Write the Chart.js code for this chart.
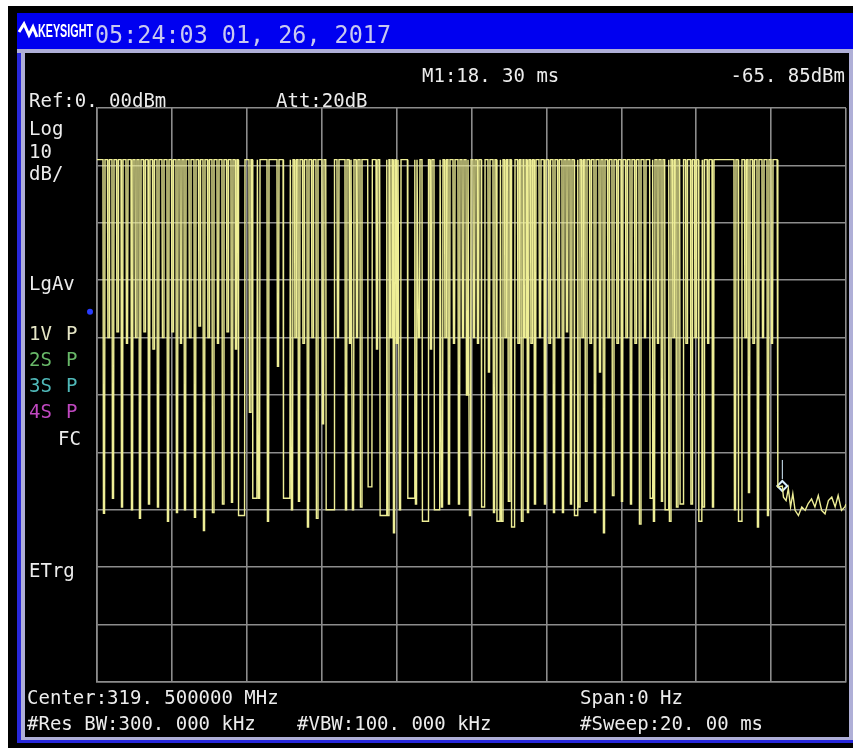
<!DOCTYPE html>
<html>
<head>
<meta charset="utf-8">
<script src="https://cdn.jsdelivr.net/npm/chart.js@4.4.1/dist/chart.umd.min.js"></script>
<style>
  html, body { margin: 0; padding: 0; background: #fff; }
  canvas { display: block; }
</style>
</head>
<body>
<canvas id="screen" width="853" height="748"></canvas>
<script>
// trace levels (dBm)
const topDb = -9;
const burstEndMs = 18.16;

// short dips of the OOK burst: centre time (ms) and bottom level (dBm)
const dipMs = [
  0.187, 0.307, 0.427, 0.547, 0.668, 0.801, 0.935, 1.041, 1.148, 1.268,
  1.389, 1.509, 1.629, 1.762, 1.896, 2.016, 2.136, 2.243, 2.350, 2.483,
  2.617, 2.737, 2.857, 2.977, 3.097, 3.231, 3.364, 3.485, 3.605, 3.712,
  4.085, 4.326, 4.566, 4.833, 5.207, 5.300, 5.394, 5.514, 5.634, 5.754,
  5.874, 6.035, 6.435, 6.649, 6.756, 6.836, 6.943, 7.049, 7.477, 7.770,
  7.850, 7.931, 8.011, 8.091, 8.518, 8.598, 8.919,
  9.212, 9.306, 9.399, 9.533, 9.666, 9.773, 9.880, 9.960, 10.067, 10.174,
  10.467, 10.601, 10.814, 10.908, 10.999, 11.255, 11.348, 11.428, 11.509, 11.602,
  11.696, 11.829, 11.963, 12.083, 12.203, 12.323, 12.443, 12.550, 12.657, 12.870,
  12.964, 13.057, 13.178, 13.298, 13.431, 13.538, 13.658, 13.778, 13.898, 14.019,
  14.139, 14.259, 14.379, 14.499, 14.633, 14.873, 14.980, 15.087, 15.300, 15.394,
  15.487, 15.741, 15.874, 15.981, 16.195, 16.320, 16.449, 17.036, 17.316, 17.410,
  17.530, 17.650, 17.784, 17.917, 18.024
];
const dipDb = [
  -70.6, -40, -68, -39, -69.5, -41, -70, -40, -71.5, -39,
  -69, -42, -69.5, -40, -72, -39, -70.5, -41, -70, -40,
  -71.3, -38, -73.6, -40, -70.5, -41, -69, -39, -68.7, -42,
  -53, -68, -72, -45, -70, -40, -68.5, -41, -73, -40,
  -71.5, -55, -40, -70, -41, -70, -40, -69.5, -42, -71,
  -40, -74, -41, -70, -69, -40, -42,
  -69.5, -40, -69, -41, -69, -40, -50, -71, -40, -41,
  -46, -70.5, -72, -40, -68.5, -41, -72, -40, -70.5, -41,
  -69, -40, -69, -41, -70.5, -40, -70.5, -39, -69, -69.5,
  -40, -68.5, -41, -70.5, -46, -74, -40, -67.5, -41, -68.5,
  -40, -69, -41, -72.5, -40, -72, -41, -68.5, -72, -40,
  -69.5, -41, -69, -40, -69.5, -41, -69.5, -70, -40, -67,
  -41, -73, -40, -71, -41
];

// longer stretches where the carrier is off (ms, ms, dBm)
const lowStartMs = [3.78, 4.16, 4.98, 6.12, 7.24, 7.56, 8.30, 8.69, 9.01, 10.27, 10.68, 11.07, 12.75, 14.77, 15.17, 15.57, 16.07, 17.13];
const lowEndMs   = [3.94, 4.27, 5.15, 6.33, 7.34, 7.72, 8.47, 8.84, 9.15, 10.35, 10.76, 11.15, 12.82, 14.82, 15.25, 15.65, 16.15, 17.21];
const lowDb      = [-71, -68, -68, -70, -66, -71, -68, -72, -70, -69.5, -72, -73, -71, -68, -70, -69, -72, -72];

// noise floor after the burst
const noiseMs = [18.18, 18.30, 18.33, 18.40, 18.46, 18.52, 18.58, 18.64, 18.73, 18.82, 18.91, 18.99,
  19.08, 19.17, 19.26, 19.35, 19.44, 19.53, 19.62, 19.71, 19.79, 19.88, 19.97, 20.0];
const noiseDb = [-66, -65.85, -67.8, -68.4, -66.3, -69.5, -67.2, -70.1, -71.0, -69.5, -70.1, -68.9,
  -68.1, -69.5, -67.5, -70.1, -70.7, -68.4, -67.8, -69.5, -67.5, -70.1, -69.5, -69];

// marker M1
const markerMs = 18.30;
const markerDb = -65.85;

// screen annotation texts
const headerText = '05:24:03 01, 26, 2017';
const refText = 'Ref:0. 00dBm';
const attText = 'Att:20dB';
const markerText = 'M1:18. 30 ms';
const markerValText = '-65. 85dBm';
const leftLabels = ['Log', '10', 'dB/', 'LgAv'];
const traceLabels = ['1V', '2S', '3S', '4S'];
const centerText = 'Center:319. 500000 MHz';
const spanText = 'Span:0 Hz';
const rbwText = '#Res BW:300. 000 kHz';
const vbwText = '#VBW:100. 000 kHz';
const sweepText = '#Sweep:20. 00 ms';

const DIP_HALF = 0.015;
const EDGE = 0.012;

const events = [];
dipMs.forEach((t, i) => events.push({ from: t - DIP_HALF, to: t + DIP_HALF, db: dipDb[i] }));
lowStartMs.forEach((t, i) => events.push({ from: t, to: lowEndMs[i], db: lowDb[i] }));
events.sort((a, b) => a.from - b.from);

const trace = [{ x: 0, y: topDb }];
events.forEach(e => {
    trace.push({ x: e.from - EDGE, y: topDb }, { x: e.from, y: e.db }, { x: e.to, y: e.db }, { x: e.to + EDGE, y: topDb });
});
trace.push({ x: burstEndMs, y: topDb });
noiseMs.forEach((t, i) => trace.push({ x: t, y: noiseDb[i] }));

const MONO = '"DejaVu Sans Mono", "Liberation Mono", monospace';

const screenPlugin = {
    id: 'screen',
    beforeDraw(chart) {
        const c = chart.ctx;
        c.save();
        c.fillStyle = '#fff';
        c.fillRect(0, 0, 853, 748);
        c.fillStyle = '#000';
        c.fillRect(8, 6, 845, 742);
        // header bar
        c.fillStyle = 'rgb(0,0,240)';
        c.fillRect(17, 13, 836, 37);
        // frame of the screen
        c.fillStyle = 'rgb(40,40,220)';
        c.fillRect(17, 50, 4, 693);
        c.fillRect(17, 740, 836, 3);
        c.fillStyle = 'rgb(175,175,215)';
        c.fillRect(17, 49, 836, 4);
        c.fillRect(21, 50, 4, 690);
        c.fillRect(21, 737, 832, 3);
        c.fillRect(849, 50, 4, 690);
        c.restore();
    },
    afterDatasetsDraw(chart) {
        const c = chart.ctx;
        const x = chart.scales.x, y = chart.scales.y;
        c.save();
        // marker stem above M1
        const mx = x.getPixelForValue(markerMs);
        const my = y.getPixelForValue(markerDb);
        c.strokeStyle = '#d8f0ff';
        c.lineWidth = 1;
        c.beginPath();
        c.moveTo(mx, my - 7);
        c.lineTo(mx, my - 26);
        c.stroke();
        // blue level mark at the left edge
        c.fillStyle = 'rgb(40,60,255)';
        c.beginPath();
        c.arc(x.left - 7, y.getPixelForValue(-35.5), 3, 0, Math.PI * 2);
        c.fill();
        c.restore();
    },
    afterDraw(chart) {
        const c = chart.ctx;
        c.save();
        c.textBaseline = 'alphabetic';

        // logo
        c.strokeStyle = '#fff';
        c.lineWidth = 3;
        c.lineJoin = 'miter';
        c.beginPath();
        c.moveTo(19, 32);
        c.lineTo(24, 24);
        c.lineTo(29, 35);
        c.lineTo(33, 27);
        c.lineTo(37, 37);
        c.stroke();
        c.fillStyle = '#fff';
        c.font = 'bold 19px "Liberation Sans", Arial, sans-serif';
        c.fillText('KEYSIGHT', 38, 37, 55);

        c.fillStyle = 'rgb(200,200,240)';
        c.font = '24px ' + MONO;
        c.fillText(headerText, 95, 43, 296);

        c.fillStyle = '#ececec';
        c.font = '19px ' + MONO;
        c.fillText(refText, 29, 107, 143);
        c.fillText(attText, 276, 107);
        c.fillText(markerText, 422, 82);
        c.textAlign = 'right';
        c.fillText(markerValText, 845, 82);
        c.textAlign = 'left';

        const leftY = [135, 158, 180, 290];
        leftLabels.forEach((t, i) => c.fillText(t, 29, leftY[i]));

        const traceColors = ['#e6e6c6', '#68b868', '#4fb8b8', '#c048c0'];
        const traceY = [340, 366, 392, 418];
        traceLabels.forEach((t, i) => {
            c.fillStyle = traceColors[i];
            c.fillText(t, 29, traceY[i]);
            c.fillText('P', 66, traceY[i]);
        });
        c.fillStyle = '#ececec';
        c.fillText('FC', 58, 445);
        c.fillText('ETrg', 29, 577);

        c.fillText(centerText, 27, 704, 252);
        c.fillText(rbwText, 27, 730, 230);
        c.fillText(vbwText, 297, 730);
        c.fillText(spanText, 580, 704);
        c.fillText(sweepText, 580, 730);
        c.restore();
    }
};

const gridColor = 'rgb(140,140,140)';

new Chart(document.getElementById('screen').getContext('2d'), {
    type: 'line',
    data: {
        datasets: [{
            label: 'Trace 1',
            data: trace,
            borderColor: 'rgb(238,238,150)',
            borderWidth: 1.4,
            pointRadius: 0,
            tension: 0,
            fill: false
        }, {
            label: 'M1',
            data: [{ x: markerMs, y: markerDb }],
            showLine: false,
            pointStyle: 'rectRot',
            pointRadius: 5,
            borderColor: '#d8f0ff',
            borderWidth: 2,
            backgroundColor: 'rgba(0,0,0,0)'
        }]
    },
    options: {
        responsive: false,
        animation: false,
        devicePixelRatio: 1,
        layout: { padding: { left: 97, top: 108, right: 6, bottom: 66 } },
        plugins: { legend: { display: false }, tooltip: { enabled: false } },
        scales: {
            x: {
                type: 'linear',
                min: 0,
                max: 20,
                ticks: { display: false, stepSize: 2 },
                grid: { color: gridColor, lineWidth: 1.6, drawTicks: false },
                border: { color: gridColor, width: 1.6 }
            },
            y: {
                type: 'linear',
                min: -100,
                max: 0,
                ticks: { display: false, stepSize: 10 },
                grid: { color: gridColor, lineWidth: 1.6, drawTicks: false },
                border: { color: gridColor, width: 1.6 }
            }
        }
    },
    plugins: [screenPlugin]
});
</script>
</body>
</html>
